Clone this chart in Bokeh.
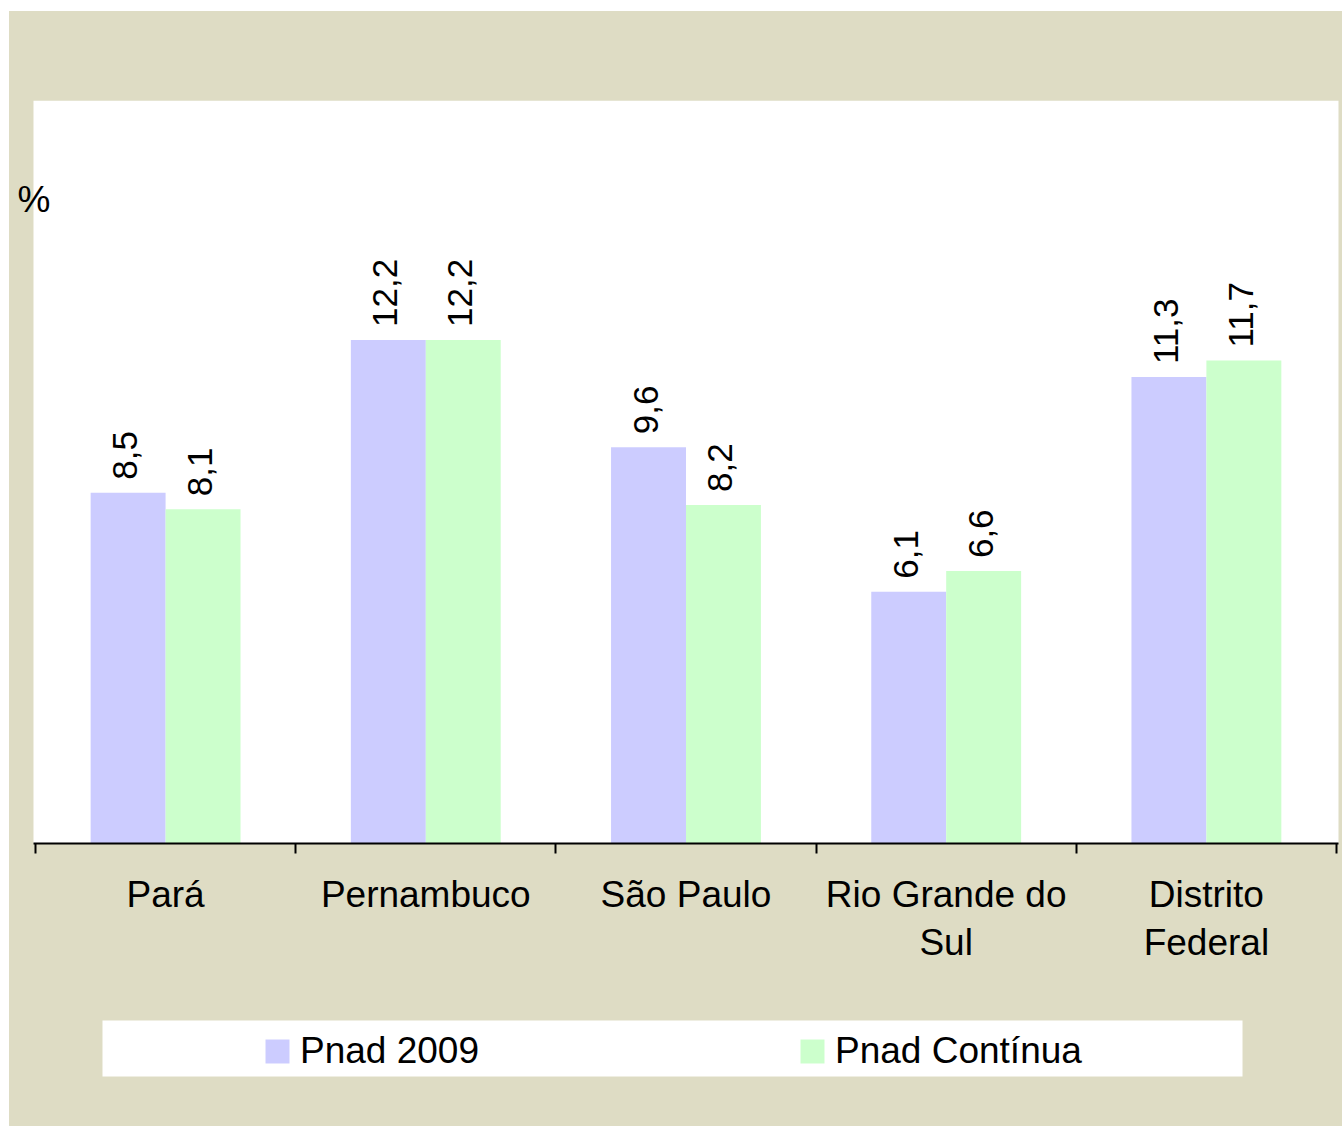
from bokeh.plotting import figure
from bokeh.models import (Range1d, FixedTicker, LabelSet, Label, ColumnDataSource, BoxAnnotation)
from bokeh.core.properties import value
from bokeh.layouts import column
from bokeh.embed import file_html
from bokeh.resources import INLINE

categories = ["Pará", "Pernambuco", "São Paulo", "Rio Grande do\nSul", "Distrito\nFederal"]
series_names = ["Pnad 2009", "Pnad Contínua"]
pnad_2009 = [8.5, 12.2, 9.6, 6.1, 11.3]
pnad_continua = [8.1, 12.2, 8.2, 6.6, 11.7]
colors = ["#CCCCFF", "#CCFFCC"]

BEIGE = "#DEDCC4"
FONT = "Liberation Sans"

centers = [i + 0.5 for i in range(len(categories))]
bar_w = 0.288

# x range: category boundaries 0..5, a little margin so the frame spans the full canvas width
p = figure(width=1333, height=989, output_backend="svg", toolbar_location=None,
           x_range=Range1d(-0.0999, 5.0231), y_range=Range1d(0, 18),
           y_axis_location=None,
           min_border_left=0, min_border_right=0, min_border_top=89, min_border_bottom=157)
p.border_fill_color = BEIGE
p.background_fill_color = BEIGE
p.outline_line_color = None
p.xgrid.visible = False
p.ygrid.visible = False

# white plot area
p.add_layout(BoxAnnotation(left=-0.0077, right=5.0077, bottom=0, top=None,
                           fill_color="white", fill_alpha=1, line_color=None, level="underlay"))

src = ColumnDataSource(dict(
    x1=[c - bar_w / 2 for c in centers],
    x2=[c + bar_w / 2 for c in centers],
    v1=pnad_2009, v2=pnad_continua,
    t1=[f"{v:.1f}".replace(".", ",") for v in pnad_2009],
    t2=[f"{v:.1f}".replace(".", ",") for v in pnad_continua],
))
p.vbar(x="x1", top="v1", width=bar_w, source=src, fill_color=colors[0], line_color=None)
p.vbar(x="x2", top="v2", width=bar_w, source=src, fill_color=colors[1], line_color=None)

for xk, yk, tk in (("x1", "v1", "t1"), ("x2", "v2", "t2")):
    p.add_layout(LabelSet(x=xk, y=yk, text=tk, source=src, angle=90, angle_units="deg",
                          text_align="left", text_baseline="middle", y_offset=13, x_offset=-3,
                          text_font=value(FONT), text_font_size=value("35px"),
                          text_color="black"))

ax = p.xaxis[0]
ax.bounds = (-0.0077, 5.0077)
ax.ticker = FixedTicker(ticks=centers, minor_ticks=list(range(len(categories) + 1)))
ax.major_label_overrides = {c: lab for c, lab in zip(centers, categories)}
ax.major_tick_line_color = None
ax.major_tick_out = 0
ax.major_tick_in = 0
ax.minor_tick_line_color = "black"
ax.minor_tick_line_width = 2
ax.minor_tick_out = 10
ax.minor_tick_in = 0
ax.axis_line_color = "black"
ax.axis_line_width = 2
ax.major_label_standoff = 20
ax.major_label_text_font = FONT
ax.major_label_text_font_size = "37px"
ax.major_label_text_color = "black"
ax.major_label_text_line_height = 1.18

p.add_layout(Label(x=-0.0693, y=15.6, text="%", text_font=FONT, text_font_size="37px",
                   text_color="black", text_align="left", text_baseline="alphabetic"))

# legend band (x and y ranges in page pixels)
p2 = figure(width=1333, height=126, output_backend="svg", toolbar_location=None,
            x_range=Range1d(9, 1342), y_range=Range1d(0, 126),
            x_axis_location=None, y_axis_location=None,
            min_border_left=0, min_border_right=0, min_border_top=0, min_border_bottom=0)
p2.border_fill_color = BEIGE
p2.background_fill_color = BEIGE
p2.outline_line_color = None
p2.xgrid.visible = False
p2.ygrid.visible = False
p2.add_layout(BoxAnnotation(left=102, right=1242, bottom=50, top=106,
                            fill_color="white", fill_alpha=1, line_color=None, level="underlay"))
for name, col in zip(series_names, colors):
    p2.vbar(x=[-1000], top=[1], width=1, fill_color=col, line_color=None, legend_label=name)
lg = p2.legend[0]
lg.orientation = "horizontal"
lg.location = (253, 54)
lg.margin = 0
lg.padding = 0
lg.spacing = 0
lg.glyph_width = 30
lg.glyph_height = 30
lg.label_standoff = 8
lg.label_width = 497
lg.label_text_font = FONT
lg.label_text_font_size = "37px"
lg.label_text_color = "black"
lg.border_line_color = None
lg.background_fill_alpha = 0

layout = column(p, p2, spacing=0, margin=(11, 0, 0, 9), styles={"background-color": BEIGE})
open("out.html", "w").write(file_html(layout, INLINE))
